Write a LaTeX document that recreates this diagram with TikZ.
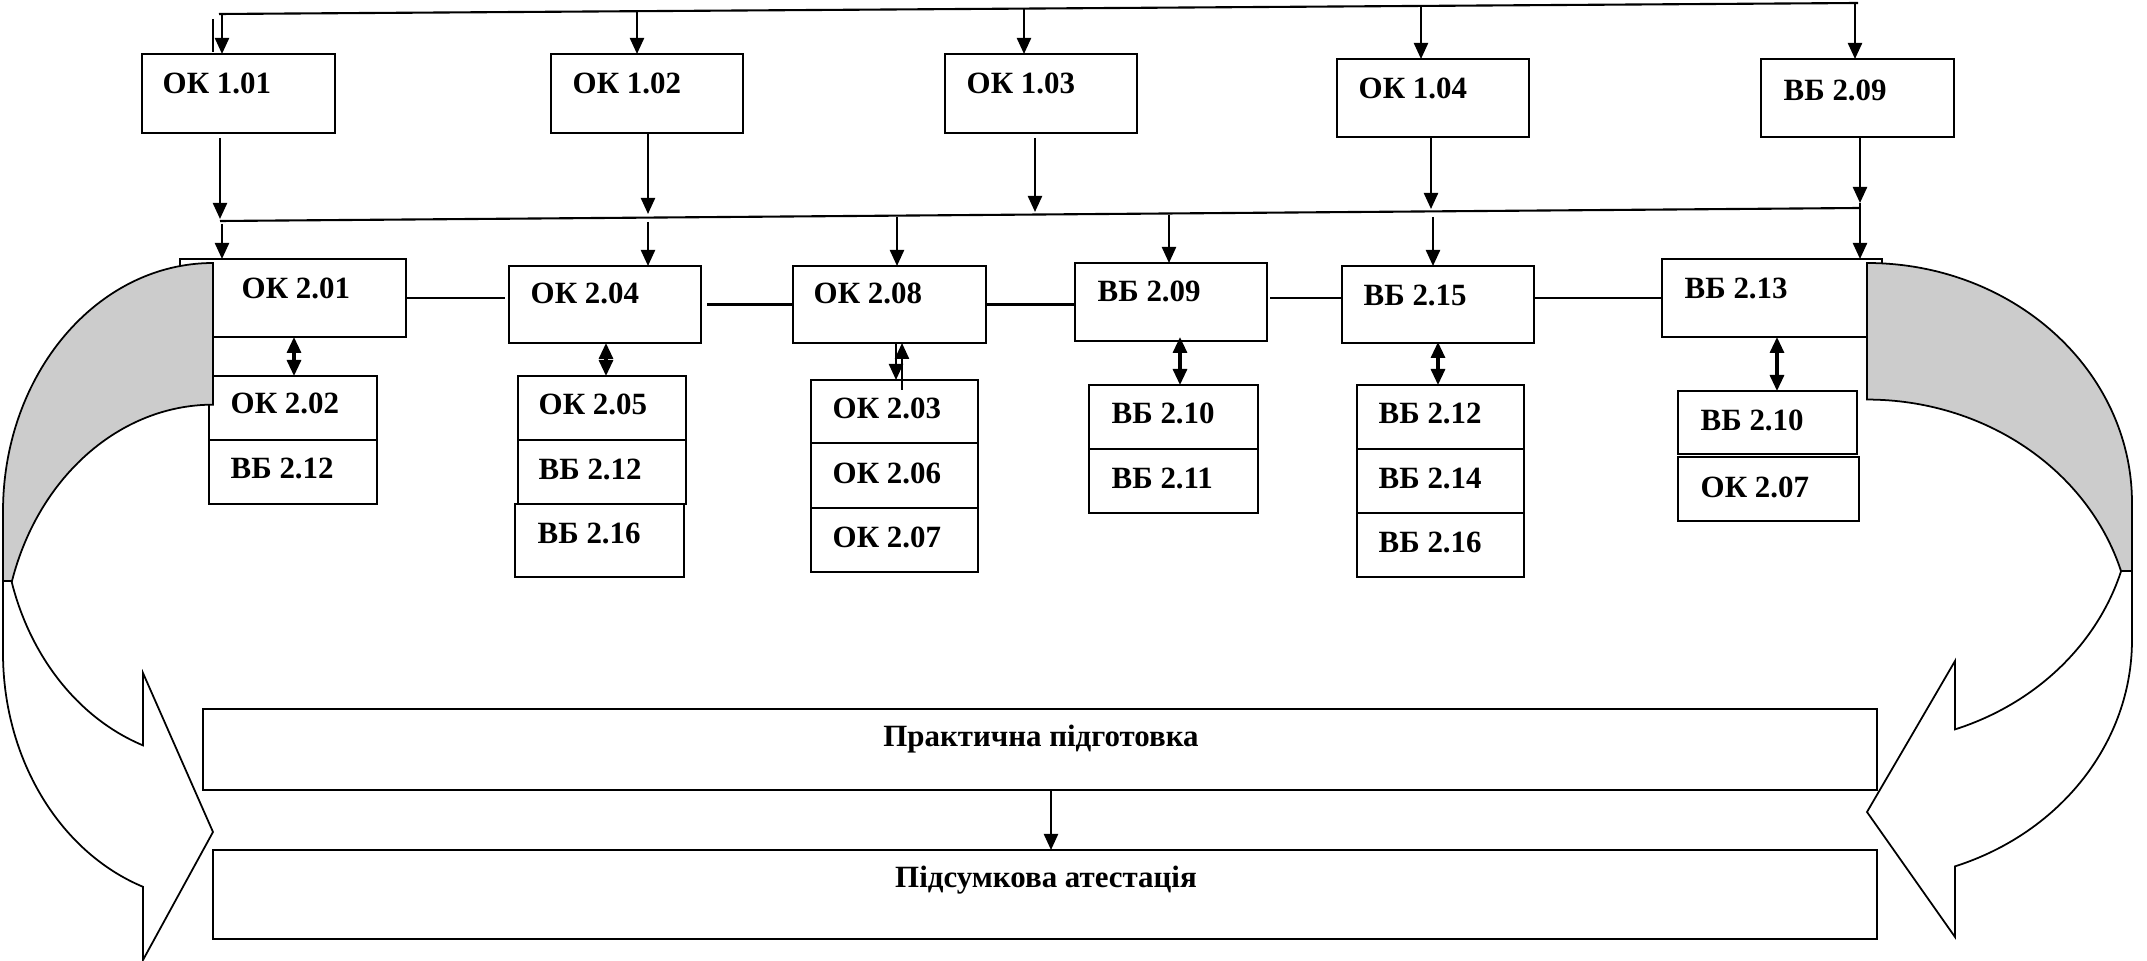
\documentclass[tikz,border=0pt]{standalone}
\usepackage{fontspec}
\setmainfont{Liberation Serif}
\usetikzlibrary{arrows.meta}
\newcommand{\mybox}[8]{%
  \node[box, minimum width={(#4-#2)*0.1mm}, minimum height={(#5-#3)*0.1mm}] (#1) at ({(#2+#4)/2},{-(#3+#5)/2}) {};
  \node[lbl] (#1t) at (#7,-#8) {#6};
}
\begin{document}
\begin{tikzpicture}[x=0.1mm,y=0.1mm,
  box/.style={draw, line width=0.65pt, inner sep=0pt, outer sep=0pt, fill=white},
  lbl/.style={font=\fontsize{8.8}{10}\selectfont\bfseries, inner sep=0pt, anchor=west},
  ctxt/.style={font=\fontsize{8.8}{10}\selectfont\bfseries, inner sep=0pt},
  ln/.style={line width=0.6pt},
  arr/.style={line width=0.65pt, -{Triangle[length=1.6mm,width=1.4mm]}},
  darr/.style={line width=0.9pt, {Triangle[length=1.6mm,width=1.4mm]}-{Triangle[length=1.6mm,width=1.4mm]}},
  band/.style={draw, line width=0.5pt, line join=miter}
]
\path[use as bounding box] (0,0) rectangle (2147,-961);

% row 1
\mybox{ok101}{142}{54}{335}{133}{ОК 1.01}{162}{83}
\mybox{ok102}{551}{54}{743}{133}{ОК 1.02}{572}{83}
\mybox{ok103}{945}{54}{1137}{133}{ОК 1.03}{966}{83}
\mybox{ok104}{1337}{59}{1529}{137}{ОК 1.04}{1358}{88}
\mybox{vbtop}{1761}{59}{1954}{137}{ВБ 2.09}{1783}{90}

% row 2
\mybox{ok201}{180}{259}{406}{337}{ОК 2.01}{241}{288}
\mybox{ok204}{509}{266}{701}{343}{ОК 2.04}{530}{293}
\mybox{ok208}{793}{266}{986}{343}{ОК 2.08}{813}{293}
\mybox{vb209}{1075}{263}{1267}{341}{ВБ 2.09}{1097}{291}
\mybox{vb215}{1342}{266}{1534}{343}{ВБ 2.15}{1363}{295}
\mybox{vb213}{1662}{259}{1882}{337}{ВБ 2.13}{1684}{288}

% row 3
\mybox{ok202}{209}{376}{377}{440}{ОК 2.02}{230}{403}
\mybox{vbxa}{209}{440}{377}{504}{ВБ 2.12}{230}{468}
\mybox{ok205}{518}{376}{686}{440}{ОК 2.05}{538}{404}
\mybox{vbxb}{518}{440}{686}{504}{ВБ 2.12}{538}{469}
\mybox{vbya}{515}{504}{684}{577}{ВБ 2.16}{537}{533}
\mybox{ok203}{811}{380}{978}{443}{ОК 2.03}{832}{408}
\mybox{ok206}{811}{443}{978}{508}{ОК 2.06}{832}{473}
\mybox{okza}{811}{508}{978}{572}{ОК 2.07}{832}{537}
\mybox{vbwa}{1089}{385}{1258}{449}{ВБ 2.10}{1111}{413}
\mybox{vb211}{1089}{449}{1258}{513}{ВБ 2.11}{1111}{478}
\mybox{vbxc}{1357}{385}{1524}{449}{ВБ 2.12}{1378}{413}
\mybox{vb214}{1357}{449}{1524}{513}{ВБ 2.14}{1378}{478}
\mybox{vbyb}{1357}{513}{1524}{577}{ВБ 2.16}{1378}{542}
\mybox{vbwb}{1678}{391}{1857}{454}{ВБ 2.10}{1700}{420}
\mybox{okzb}{1678}{457}{1859}{521}{ОК 2.07}{1700}{487}

% bottom boxes
\node[box, minimum width={(1877-203)*0.1mm}, minimum height={(790-709)*0.1mm}] (prak) at ({(203+1877)/2},{-(709+790)/2}) {};
\node[ctxt] (prakt) at (1041,-739) {Практична підготовка};
\node[box, minimum width={(1877-213)*0.1mm}, minimum height={(939-850)*0.1mm}] (pids) at ({(213+1877)/2},{-(850+939)/2}) {};
\node[ctxt] (pidst) at (1046,-880) {Підсумкова атестація};

% top bus
\coordinate (busAl) at (219,-14);
\coordinate (busAr) at (1858,-3);
\draw[ln] (busAl) -- (busAr);
\coordinate (a1) at (222,-14);
\coordinate (a2) at (637,-11);
\coordinate (a3) at (1024,-9);
\coordinate (a4) at (1421,-6);
\coordinate (a5) at (1855,-3);
\draw[arr] (a1) -- (a1 |- ok101.north);
\draw[arr] (a2) -- (a2 |- ok102.north);
\draw[arr] (a3) -- (a3 |- ok103.north);
\draw[arr] (a4) -- (a4 |- ok104.north);
\draw[arr] (a5) -- (a5 |- vbtop.north);
\coordinate (tk1) at (213,-19);
\coordinate (tk2) at (213,-52);
\draw[line width=0.4pt] (tk1) -- (tk2);

% second bus
\coordinate (busBl) at (220,-221);
\coordinate (busBr) at (1860,-208);
\draw[ln] (busBl) -- (busBr);
\coordinate (b1) at (220,-219);
\coordinate (b2) at (648,-214);
\coordinate (b3) at (1035,-212);
\coordinate (b4) at (1431,-209);
\coordinate (b5) at (1860,-203);
\draw[arr] ([yshift=-0.5mm]b1 |- ok101.south) -- (b1);
\draw[arr] (b2 |- ok102.south) -- (b2);
\draw[arr] ([yshift=-0.5mm]b3 |- ok103.south) -- (b3);
\draw[arr] (b4 |- ok104.south) -- (b4);
\draw[arr] (b5 |- vbtop.south) -- (b5);
\draw[ln] (b5) -- (busBr);

\coordinate (c1) at (222,-224);
\coordinate (c2) at (648,-222);
\coordinate (c3) at (897,-217);
\coordinate (c4) at (1169,-215);
\coordinate (c5) at (1433,-217);
\draw[arr] (c1) -- (c1 |- ok201.north);
\draw[arr] (c2) -- (c2 |- ok204.north);
\draw[arr] (c3) -- (c3 |- ok208.north);
\draw[arr] (c4) -- (c4 |- vb209.north);
\draw[arr] (c5) -- (c5 |- vb215.north);
\draw[arr] (busBr) -- (busBr |- vb213.north);

% horizontal links in row 2
\coordinate (h1) at (505,-298);
\draw[ln] (ok201.east) -- (h1);
\draw[ln] ([xshift=0.6mm]ok204.east) -- (ok208.west);
\draw[ln] (ok208.east) -- (ok208.east -| vb209.west);
\coordinate (h4) at (1270,-298);
\draw[ln] (h4) -- (h4 -| vb215.west);
\draw[ln] (vb213.west -| vb215.east) -- (vb213.west);

% vertical double arrows
\coordinate (d1) at (294,-337);
\draw[darr] (d1) -- (d1 |- ok202.north);
\coordinate (d2) at (606,-343);
\draw[darr] (d2) -- (d2 |- ok205.north);
\coordinate (d3a) at (896,-343);
\draw[arr] (d3a) -- (d3a |- ok203.north);
\coordinate (d3b) at (902,-390);
\draw[arr] (d3b) -- (d3b |- ok208.south);
\coordinate (d4) at (1180,-337);
\draw[darr] (d4) -- (d4 |- vbwa.north);
\coordinate (d5) at (1438,-342);
\draw[darr] (d5) -- (d5 |- vbxc.north);
\coordinate (d6) at (1777,-337);
\draw[darr] (d6) -- (d6 |- vbwb.north);

% practical -> final
\coordinate (d7) at (1051,-790);
\draw[arr] (d7) -- (d7 |- pids.north);

% left curved arrow
\draw[band, fill=white] (3,-511.6) -- (3,-653)
  arc[start angle=180, end angle=250.5, x radius=21mm, y radius=24.8mm]
  -- (143,-960) -- (213,-832) -- (143,-673) -- (143,-745.4)
  arc[start angle=250.5, end angle=180, x radius=21mm, y radius=24.8mm] -- cycle;
\draw[band, fill=gray!40] (213,-263)
  arc[start angle=90, end angle=180, x radius=21mm, y radius=24.86mm]
  -- (3,-581) -- (12,-581)
  arc[start angle=163.2, end angle=90, x radius=21mm, y radius=24.8mm] -- cycle;

% right curved arrow
\draw[band, fill=white] (2132,-503) -- (2132,-640)
  arc[start angle=0, end angle=-70.6, x radius=26.5mm, y radius=24mm]
  -- (1955,-937) -- (1867,-812) -- (1955,-661) -- (1955,-729.4)
  arc[start angle=-70.6, end angle=0, x radius=26.5mm, y radius=24mm] -- cycle;
\draw[band, fill=gray!40] (1867,-263)
  arc[start angle=90, end angle=0, x radius=26.5mm, y radius=24mm]
  -- (2132,-571) -- (2121,-571)
  arc[start angle=16.6, end angle=90, x radius=26.5mm, y radius=24mm] -- cycle;
\end{tikzpicture}
\end{document}
